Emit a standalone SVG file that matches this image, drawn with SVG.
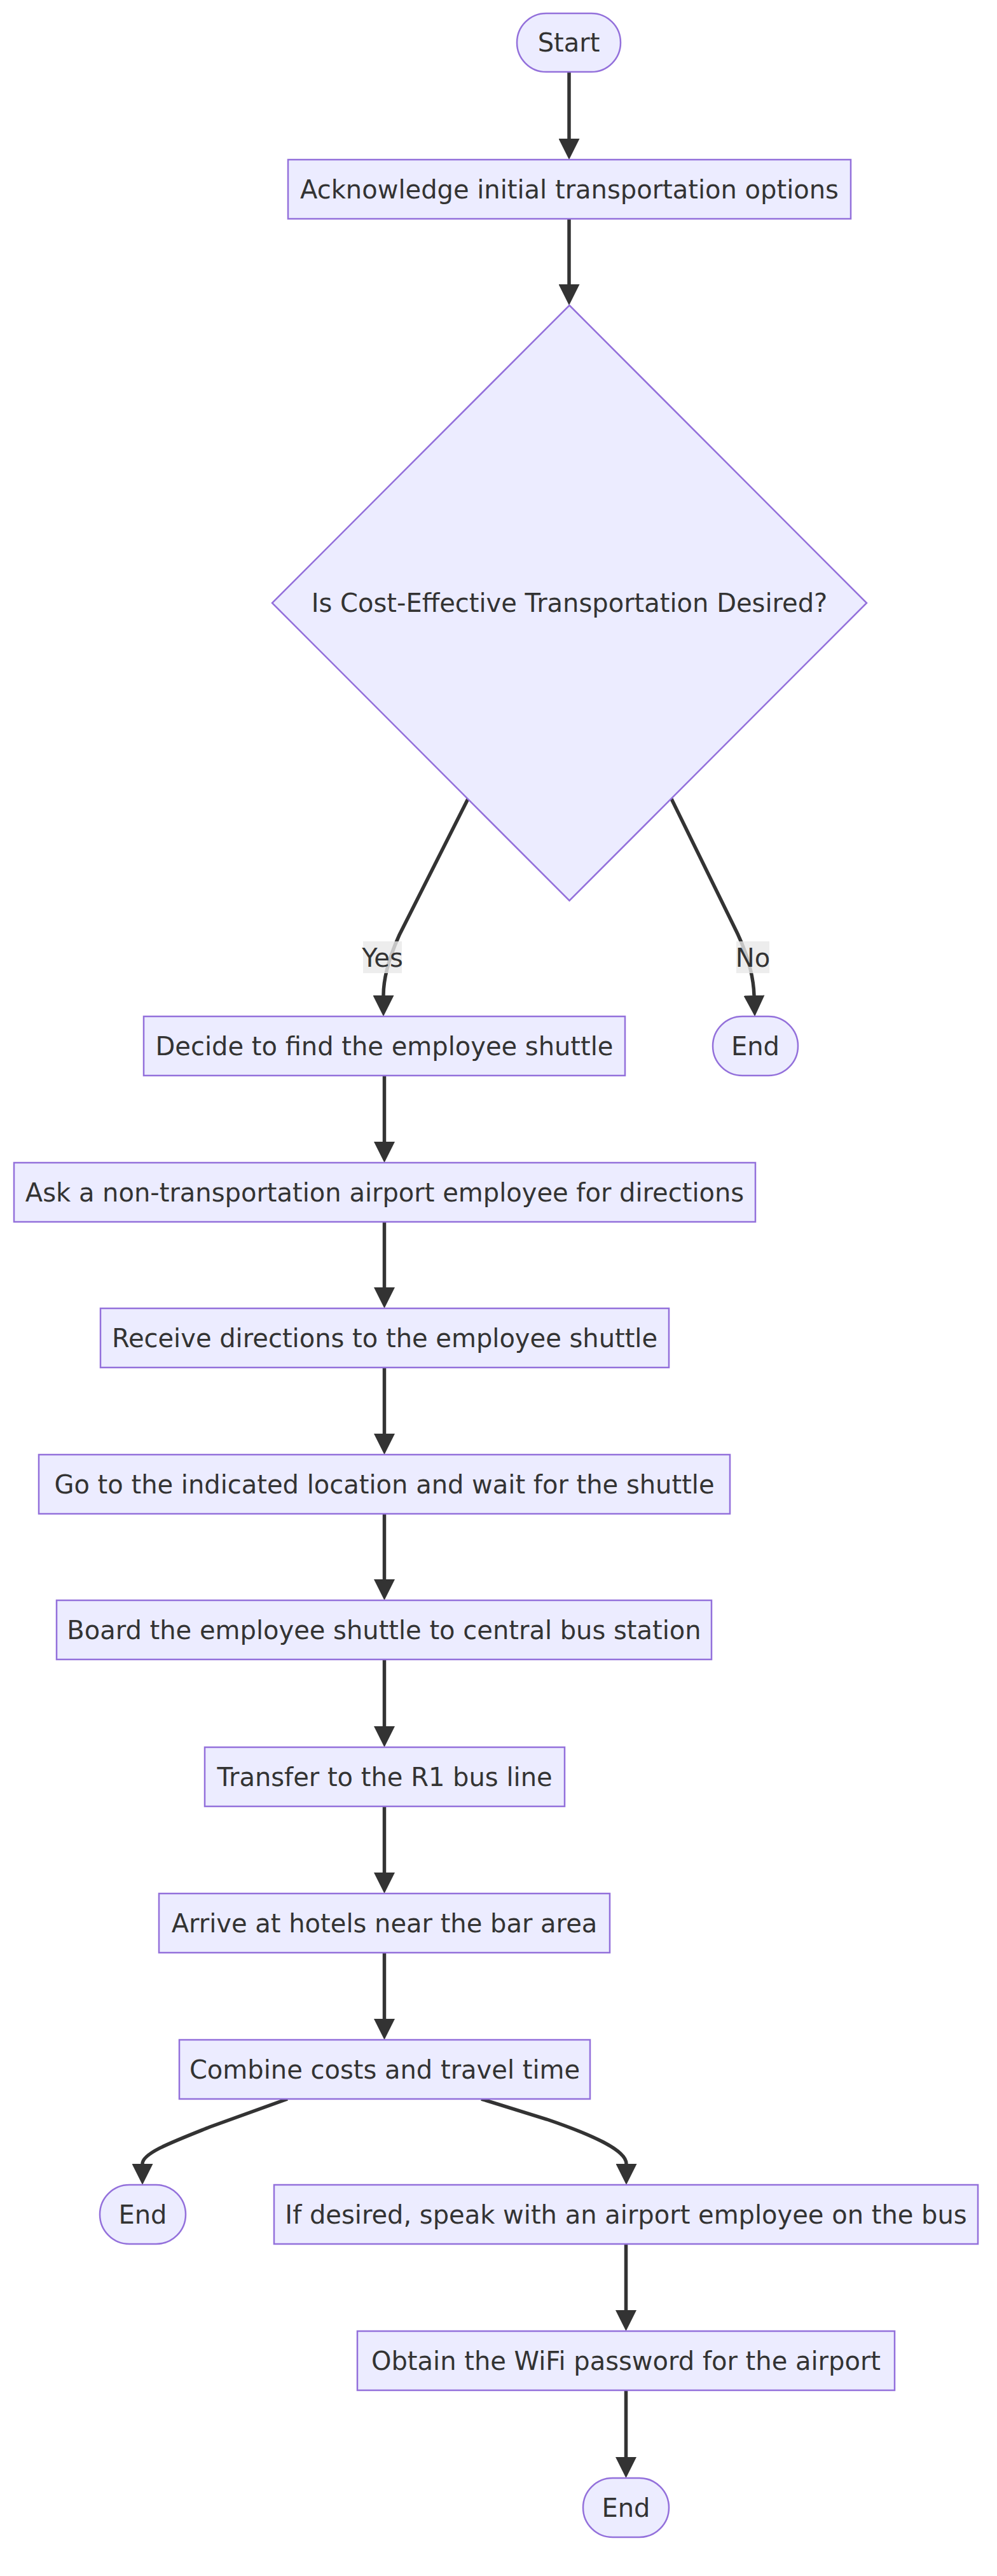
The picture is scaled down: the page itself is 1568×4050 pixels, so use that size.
<svg xmlns="http://www.w3.org/2000/svg" width="1568" height="4050" viewBox="0 0 1568 4050">
<style>
.node rect,.node polygon{fill:#ECECFF;stroke:#9370DB;stroke-width:2.5}
.node text,.lbl text{font-family:"DejaVu Sans","Liberation Sans",sans-serif;font-size:40px;fill:#333;text-anchor:middle}
.edge{fill:none;stroke:#333;stroke-width:5.5;marker-end:url(#arrow)}
.lbl rect{fill:#e8e8e8;opacity:0.8}
</style>
<defs>
<marker id="arrow" viewBox="0 0 10 10" refX="0" refY="5" markerUnits="userSpaceOnUse" markerWidth="33" markerHeight="33" orient="auto">
<path d="M0,0 L10,5 L0,10 z" fill="#333"/>
</marker>
</defs>
<rect width="1568" height="4050" fill="#fff"/>
<g id="edges">
<path class="edge" d="M895,113 L895,218"/>
<path class="edge" d="M895,344 L895,447"/>
<path class="edge" d="M736,1256 L628,1470 C610,1510 603,1540 603,1565"/>
<path class="edge" d="M1056,1256 L1160,1468 C1175,1500 1185,1535 1186,1565"/>
<path class="edge" d="M604.5,1691 L604.5,1795"/>
<path class="edge" d="M604.5,1921 L604.5,2024"/>
<path class="edge" d="M604.5,2150 L604.5,2254"/>
<path class="edge" d="M604.5,2380 L604.5,2483"/>
<path class="edge" d="M604.5,2609 L604.5,2714"/>
<path class="edge" d="M604.5,2840 L604.5,2944"/>
<path class="edge" d="M604.5,3070 L604.5,3174"/>
<path class="edge" d="M452,3300 L330,3344 C270,3368 224,3385 224,3402"/>
<path class="edge" d="M757,3300 L860,3332 C930,3356 985,3380 985,3402"/>
<path class="edge" d="M984.5,3528 L984.5,3632"/>
<path class="edge" d="M984.5,3758 L984.5,3863"/>
<g class="lbl" id="label-yes"><rect x="571" y="1480" width="61" height="50"/><text x="601.5" y="1520">Yes</text></g>
<g class="lbl" id="label-no"><rect x="1158" y="1480" width="52" height="50"/><text x="1184" y="1520">No</text></g>
</g>
<g class="node" id="start"><rect x="813" y="21" width="163" height="92" rx="46" ry="46"/><text x="894.5" y="81">Start</text></g>
<g class="node" id="acknowledge"><rect x="453" y="251" width="885" height="93"/><text x="895.5" y="311.5">Acknowledge initial transportation options</text></g>
<g class="node" id="decision"><polygon points="895.5,480 1363,948 895.5,1416 428,948"/><text x="895.5" y="962">Is Cost-Effective Transportation Desired?</text></g>
<g class="node" id="decide"><rect x="226" y="1598" width="757" height="93"/><text x="604.5" y="1658.5">Decide to find the employee shuttle</text></g>
<g class="node" id="end1"><rect x="1121" y="1598" width="134" height="93" rx="46.5" ry="46.5"/><text x="1188" y="1658.5">End</text></g>
<g class="node" id="ask"><rect x="22" y="1828" width="1166" height="93"/><text x="605" y="1888.5">Ask a non-transportation airport employee for directions</text></g>
<g class="node" id="receive"><rect x="158" y="2057" width="894" height="93"/><text x="605" y="2117.5">Receive directions to the employee shuttle</text></g>
<g class="node" id="go"><rect x="61" y="2287" width="1087" height="93"/><text x="604.5" y="2347.5">Go to the indicated location and wait for the shuttle</text></g>
<g class="node" id="board"><rect x="89" y="2516" width="1030" height="93"/><text x="604" y="2576.5">Board the employee shuttle to central bus station</text></g>
<g class="node" id="transfer"><rect x="322" y="2747" width="566" height="93"/><text x="605" y="2807.5">Transfer to the R1 bus line</text></g>
<g class="node" id="arrive"><rect x="250" y="2977" width="709" height="93"/><text x="604.5" y="3037.5">Arrive at hotels near the bar area</text></g>
<g class="node" id="combine"><rect x="282" y="3207" width="646" height="93"/><text x="605" y="3267.5">Combine costs and travel time</text></g>
<g class="node" id="end2"><rect x="157" y="3435" width="135" height="93" rx="46.5" ry="46.5"/><text x="224.5" y="3495.5">End</text></g>
<g class="node" id="speak"><rect x="431" y="3435" width="1107" height="93"/><text x="984.5" y="3495.5">If desired, speak with an airport employee on the bus</text></g>
<g class="node" id="obtain"><rect x="562" y="3665" width="845" height="93"/><text x="984.5" y="3725.5">Obtain the WiFi password for the airport</text></g>
<g class="node" id="end3"><rect x="917" y="3896" width="135" height="93" rx="46.5" ry="46.5"/><text x="984.5" y="3956.5">End</text></g>
</svg>
